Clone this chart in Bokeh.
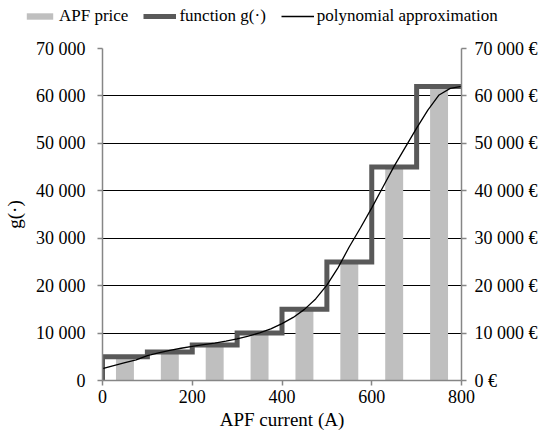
from bokeh.plotting import figure
from bokeh.models import (Range1d, LinearAxis, FixedTicker, Legend, LegendItem)
from bokeh.embed import file_html
from bokeh.resources import INLINE

# ---- data ----
bar_centers = [50, 150, 250, 350, 450, 550, 650, 750]
apf_price = [5000, 6000, 7500, 10000, 15000, 25000, 45000, 62000]

step_edges = [0, 100, 200, 300, 400, 500, 600, 700, 800]
g_values = [5000, 6000, 7500, 10000, 15000, 25000, 45000, 62000]

poly_x = [0, 25, 50, 75, 100, 125, 150, 175, 200, 225, 250, 275, 300, 325, 350,
          375, 400, 425, 450, 475, 500, 525, 550, 575, 600, 625, 650, 675, 700,
          725, 750, 775, 800]
poly_y = [2500, 3150, 3750, 4350, 5250, 5800, 6350, 6800, 7200, 7550, 7900,
          8300, 8800, 9350, 10050, 10900, 12000, 13300, 15000, 17200, 20100,
          23800, 28200, 32200, 36400, 40800, 45200, 49200, 53200, 57000, 60200,
          61600, 62000]

x_ticks = [0, 200, 400, 600, 800]
y_ticks = [0, 10000, 20000, 30000, 40000, 50000, 60000, 70000]
y_labels_left = ["0", "10 000", "20 000", "30 000", "40 000", "50 000", "60 000", "70 000"]
y_labels_right = ["0 €", "10 000 €", "20 000 €", "30 000 €", "40 000 €", "50 000 €",
                  "60 000 €", "70 000 €"]
legend_labels = ["APF price", "function g(·)", "polynomial approximation"]

FONT = "Liberation Serif"
AXIS_GRAY = "#868686"
BAR_COLOR = "#BFBFBF"
STEP_COLOR = "#595959"

LEG_H = 32

# ---------------- main figure ----------------
p = figure(width=540, height=402, output_backend="svg", toolbar_location=None,
           x_range=Range1d(0, 800), y_range=Range1d(0, 70000),
           min_border_left=93, min_border_right=78, min_border_top=16,
           min_border_bottom=54)
p.outline_line_color = None
p.background_fill_color = "white"
p.border_fill_color = "white"

p.vbar(x=bar_centers, top=apf_price, width=40, fill_color=BAR_COLOR, line_color=None)

sx, sy = [step_edges[0]], [0]
for i, v in enumerate(g_values):
    sx += [step_edges[i], step_edges[i + 1]]
    sy += [v, v]
p.line(sx, sy, line_color=STEP_COLOR, line_width=5, line_join="miter")

p.line(poly_x, poly_y, line_color="black", line_width=1.3)

p.xgrid.visible = False
p.ygrid.ticker = FixedTicker(ticks=y_ticks)
p.ygrid.grid_line_color = "black"
p.ygrid.grid_line_width = 1


def style_axis(ax):
    ax.axis_line_color = AXIS_GRAY
    ax.axis_line_width = 1.5
    ax.major_tick_line_color = AXIS_GRAY
    ax.major_tick_line_width = 1.5
    ax.major_tick_out = 5
    ax.major_tick_in = 0
    ax.minor_tick_line_color = None
    ax.major_label_text_font = FONT
    ax.major_label_text_font_size = "18px"
    ax.major_label_text_font_style = "normal"
    ax.major_label_text_color = "black"
    ax.axis_label_text_font = FONT
    ax.axis_label_text_font_size = "19px"
    ax.axis_label_text_font_style = "normal"
    ax.axis_label_text_color = "black"


xa = p.xaxis[0]
xa.ticker = FixedTicker(ticks=x_ticks)
xa.axis_label = "APF current (A)"
style_axis(xa)
xa.major_label_standoff = 4
xa.axis_label_standoff = 3

ya = p.yaxis[0]
ya.ticker = FixedTicker(ticks=y_ticks)
ya.major_label_overrides = {t: l for t, l in zip(y_ticks, y_labels_left)}
ya.axis_label = "g(·)"
style_axis(ya)
ya.major_label_standoff = 12
ya.axis_label_standoff = 8

yr = LinearAxis(ticker=FixedTicker(ticks=y_ticks))
yr.major_label_overrides = {t: l for t, l in zip(y_ticks, y_labels_right)}
style_axis(yr)
yr.major_label_standoff = 8
p.add_layout(yr, "right")

# ---------------- legend strip (separate root, no frame alignment) ----------------
lf = figure(width=532, height=LEG_H, output_backend="svg", toolbar_location=None,
            x_range=Range1d(0, 1), y_range=Range1d(0, 1),
            x_axis_location=None, y_axis_location=None,
            min_border_left=0, min_border_right=0, min_border_top=0, min_border_bottom=0)
lf.outline_line_color = None
lf.grid.visible = False
lf.border_fill_color = "white"
lf.background_fill_color = "white"
# legend proxies: one point each, placed outside the strip's visible range
r_bar = lf.vbar(x=[-5], top=[-5], bottom=[-6], width=0.1, fill_color=BAR_COLOR,
                line_color=None)
r_step = lf.line(x=[-6, -5], y=[-5, -5], line_color=STEP_COLOR, line_width=5)
r_poly = lf.line(x=[-6, -5], y=[-5, -5], line_color="black", line_width=1.3)

legend = Legend(items=[LegendItem(label=legend_labels[0], renderers=[r_bar]),
                       LegendItem(label=legend_labels[1], renderers=[r_step]),
                       LegendItem(label=legend_labels[2], renderers=[r_poly])],
                orientation="horizontal", location=(23, 6))
legend.label_text_font = FONT
legend.label_text_font_size = "17px"
legend.label_text_color = "black"
legend.glyph_width = 33
legend.glyph_height = 8
legend.label_height = 14
legend.label_standoff = 3
legend.spacing = 15
legend.padding = 0
legend.margin = 0
legend.border_line_color = None
legend.background_fill_alpha = 0
lf.add_layout(legend, "center")

open("out.html", "w").write(file_html([lf, p], INLINE))
